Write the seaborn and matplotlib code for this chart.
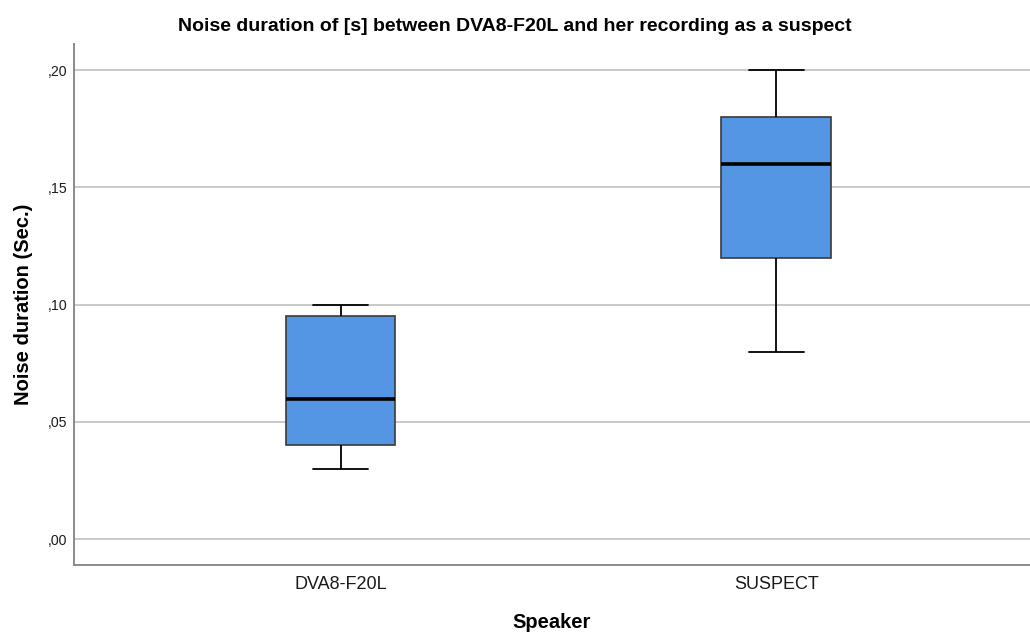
import matplotlib
matplotlib.use("Agg")
import matplotlib.pyplot as plt
from matplotlib.ticker import FuncFormatter, FixedLocator
import seaborn as sns
import pandas as pd

# Five-number summaries per speaker (min, Q1, median, Q3, max), seconds
speakers = ["DVA8-F20L", "SUSPECT"]
dva8_f20l = [0.03, 0.04, 0.06, 0.095, 0.10]
suspect = [0.08, 0.12, 0.16, 0.18, 0.20]
y_ticks = [0.00, 0.05, 0.10, 0.15, 0.20]

df = pd.DataFrame({
    "Speaker": [speakers[0]] * len(dva8_f20l) + [speakers[1]] * len(suspect),
    "Noise": dva8_f20l + suspect,
})

sns.set_theme(style="white")
plt.rcParams["font.family"] = ["Liberation Sans", "DejaVu Sans"]
plt.rcParams["text.color"] = "black"
plt.rcParams["axes.labelcolor"] = "black"

fig = plt.figure(figsize=(10.30, 6.33), dpi=100)
ax = fig.add_axes([74 / 1030, 1 - 565 / 633, (1030 - 74) / 1030, (565 - 44) / 633])

sns.boxplot(
    data=df, x="Speaker", y="Noise", order=speakers, ax=ax,
    width=0.252, color="#5495e4", saturation=1, whis=1.5,
    boxprops=dict(edgecolor="#3a3a3a", linewidth=1.2),
    medianprops=dict(color="black", linewidth=2.6),
    whiskerprops=dict(color="black", linewidth=1.3),
    capprops=dict(color="black", linewidth=1.3),
    capwidths=0.126,
)

ax.set_xlim(-0.612, 1.583)
ax.set_ylim(-0.01095, 0.2111)
ax.yaxis.set_major_locator(FixedLocator(y_ticks))
ax.yaxis.set_major_formatter(
    FuncFormatter(lambda v, p: f"{v:.2f}".lstrip("0").replace(".", ","))
)
ax.yaxis.grid(True, color="#c9c9c9", linewidth=1.4)
ax.set_axisbelow(True)

for side in ("top", "right"):
    ax.spines[side].set_visible(False)
for side in ("left", "bottom"):
    ax.spines[side].set_color("#8a8a8a")
    ax.spines[side].set_linewidth(1.4)

ax.tick_params(axis="both", length=0, colors="#1a1a1a")
ax.tick_params(axis="y", labelsize=10.2, pad=5)
ax.tick_params(axis="x", labelsize=13, pad=8)

ax.set_xlabel("Speaker", fontsize=14.5, fontweight="bold", labelpad=14)
ax.set_ylabel("Noise duration (Sec.)", fontsize=14.5, fontweight="bold", labelpad=10)
fig.suptitle(
    "Noise duration of [s] between DVA8-F20L and her recording as a suspect",
    fontsize=14, fontweight="bold", y=0.972,
)

fig.savefig("out.png", dpi=100)
